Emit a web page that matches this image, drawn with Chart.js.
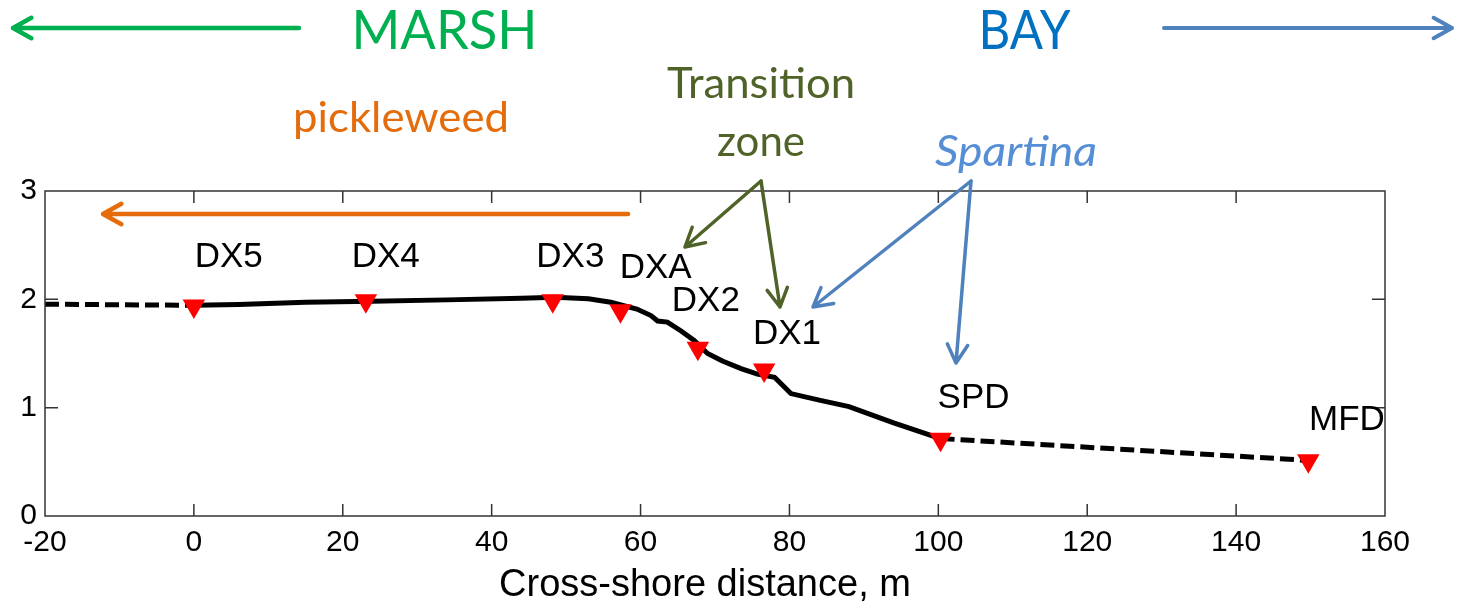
<!DOCTYPE html>
<html>
<head>
<meta charset="utf-8">
<script src="https://cdn.jsdelivr.net/npm/chart.js@4/dist/chart.umd.min.js"></script>
<style>
  html, body { margin: 0; padding: 0; background: #fff; }
  #wrap { width: 1465px; height: 604px; }
</style>
</head>
<body>
<div id="wrap"><canvas id="profile" width="1465" height="604"></canvas></div>
<script>
// ── Cross-shore elevation profile, DX transect ──

// surveyed profile (m), split where it's extrapolated (dashed) vs measured (solid)
var leftDashX = [-20, 0];
var leftDashY = [1.955, 1.945];
var profileX = [0, 6, 15, 24, 34, 44, 48.5, 53, 56, 59.5, 61.4, 62.3, 63.6, 65.4, 67.2, 69, 71, 73.5, 75.7, 78, 80.2, 84, 88, 94, 100.3];
var profileY = [1.945, 1.952, 1.973, 1.983, 1.995, 2.01, 2.02, 2.005, 1.973, 1.91, 1.85, 1.80, 1.79, 1.71, 1.62, 1.50, 1.43, 1.36, 1.31, 1.28, 1.13, 1.07, 1.01, 0.86, 0.715];
var rightDashX = [100.3, 150];
var rightDashY = [0.715, 0.512];

// instrument stations
var stationNames = ['DX5', 'DX4', 'DX3', 'DXA', 'DX2', 'DX1', 'SPD', 'MFD'];
var stationX = [0, 23.1, 48.2, 57.3, 67.7, 76.6, 100.3, 149.7];
var stationY = [1.939, 1.987, 1.987, 1.895, 1.548, 1.348, 0.708, 0.509];

// axis ticks
var xTicks = [-20, 0, 20, 40, 60, 80, 100, 120, 140, 160];
var yTicks = [0, 1, 2, 3];

// where each station name sits, in data units
var labelAnchors = [[0.1, 2.3], [21.2, 2.3], [46, 2.3], [57.2, 2.2], [64.2, 1.89], [75.1, 1.59], [99.9, 1.0], [149.8, 0.79]];

var AXIS_FONT = '"Liberation Sans", Arial, sans-serif';
var NOTE_FONT = 'Lato, "Open Sans", sans-serif';

function pts(xs, ys) {
  return xs.map(function (x, i) { return { x: x, y: ys[i] }; });
}

function arrow(ctx, x1, y1, x2, y2, color, lw) {
  var a = Math.atan2(y2 - y1, x2 - x1), head = 21, spread = Math.PI / 6.2;
  ctx.save();
  ctx.strokeStyle = color;
  ctx.lineWidth = lw;
  ctx.lineCap = 'round';
  ctx.lineJoin = 'round';
  ctx.beginPath();
  ctx.moveTo(x1, y1);
  ctx.lineTo(x2, y2);
  ctx.moveTo(x2 - head * Math.cos(a - spread), y2 - head * Math.sin(a - spread));
  ctx.lineTo(x2, y2);
  ctx.lineTo(x2 - head * Math.cos(a + spread), y2 - head * Math.sin(a + spread));
  ctx.stroke();
  ctx.restore();
}

// squeeze text into a given width (Calibri isn't available here)
function fitText(ctx, text, left, base, width, font, color) {
  ctx.save();
  ctx.font = font;
  var w = ctx.measureText(text).width;
  ctx.translate(left, base);
  ctx.scale(width / w, 1);
  ctx.fillStyle = color;
  ctx.textAlign = 'left';
  ctx.textBaseline = 'alphabetic';
  ctx.fillText(text, 0, 0);
  ctx.restore();
}

var notes = [
  { text: 'MARSH', left: 351.5, base: 49, width: 186, font: '55px ' + NOTE_FONT, color: '#00b050' },
  { text: 'BAY', left: 978.5, base: 49, width: 92, font: '55px ' + NOTE_FONT, color: '#0070c0' },
  { text: 'pickleweed', left: 293, base: 132, width: 216, font: '42px ' + NOTE_FONT, color: '#e46c0a' },
  { text: 'Transition', left: 667, base: 98, width: 188, font: '42px ' + NOTE_FONT, color: '#4f6228' },
  { text: 'zone', left: 717, base: 156, width: 88, font: '42px ' + NOTE_FONT, color: '#4f6228' },
  { text: 'Spartina', left: 935, base: 166, width: 162, font: 'italic 42px ' + NOTE_FONT, color: '#558ed5' }
];

var arrows = [
  { from: [299, 28], to: [13, 28], color: '#00b050', lw: 4.5 },
  { from: [1164, 28], to: [1452, 28], color: '#4f81bd', lw: 4 },
  { from: [628, 214], to: [103, 214], color: '#e46c0a', lw: 4.5 },
  { from: [761, 181], to: [685, 247], color: '#4f6228', lw: 3.5 },
  { from: [761, 181], to: [780, 307], color: '#4f6228', lw: 3.5 },
  { from: [971, 181], to: [813, 307], color: '#4f81bd', lw: 3.5 },
  { from: [971, 181], to: [956, 363], color: '#4f81bd', lw: 3.5 }
];

var decorations = {
  id: 'decorations',
  afterDatasetsDraw: function (chart) {
    var ctx = chart.ctx, a = chart.chartArea;
    var xs = chart.scales.x, ys = chart.scales.y;

    // matlab-ish box with inward ticks
    ctx.save();
    ctx.strokeStyle = '#333';
    ctx.lineWidth = 1.5;
    ctx.strokeRect(a.left, a.top, a.right - a.left, a.bottom - a.top);
    ctx.beginPath();
    xTicks.slice(1, -1).forEach(function (v) {
      var px = xs.getPixelForValue(v);
      ctx.moveTo(px, a.bottom); ctx.lineTo(px, a.bottom - 12);
      ctx.moveTo(px, a.top); ctx.lineTo(px, a.top + 12);
    });
    yTicks.slice(1, -1).forEach(function (v) {
      var py = ys.getPixelForValue(v);
      ctx.moveTo(a.left, py); ctx.lineTo(a.left + 13, py);
      ctx.moveTo(a.right, py); ctx.lineTo(a.right - 13, py);
    });
    ctx.stroke();

    // station names
    ctx.fillStyle = '#000';
    ctx.font = '35px ' + AXIS_FONT;
    ctx.textAlign = 'left';
    ctx.textBaseline = 'alphabetic';
    stationNames.forEach(function (name, i) {
      ctx.fillText(name, xs.getPixelForValue(labelAnchors[i][0]), ys.getPixelForValue(labelAnchors[i][1]));
    });

    // axis titles (the y title is mostly cropped off the left edge in the original)
    ctx.textAlign = 'center';
    ctx.font = '38px ' + AXIS_FONT;
    ctx.fillText('Cross-shore distance, m', 705, 596);
    ctx.translate(-5, 352);
    ctx.rotate(-Math.PI / 2);
    ctx.fillStyle = '#aaa';
    ctx.fillText('Elevation, m', 0, 0);
    ctx.restore();
  },
  afterDraw: function (chart) {
    var ctx = chart.ctx;
    notes.forEach(function (n) { fitText(ctx, n.text, n.left, n.base, n.width, n.font, n.color); });
    arrows.forEach(function (r) { arrow(ctx, r.from[0], r.from[1], r.to[0], r.to[1], r.color, r.lw); });
  }
};

var lineBase = { showLine: true, borderColor: '#000', borderWidth: 5, pointRadius: 0, fill: false, tension: 0 };

new Chart(document.getElementById('profile'), {
  type: 'scatter',
  data: {
    datasets: [
      Object.assign({ label: 'extrapolated (marsh)', data: pts(leftDashX, leftDashY), borderDash: [14, 6], order: 2 }, lineBase),
      Object.assign({ label: 'profile', data: pts(profileX, profileY), order: 2 }, lineBase),
      Object.assign({ label: 'extrapolated (bay)', data: pts(rightDashX, rightDashY), borderDash: [14, 6], order: 2 }, lineBase),
      {
        label: 'stations',
        data: pts(stationX, stationY),
        pointStyle: 'triangle',
        rotation: 180,
        pointRadius: 13,
        pointBackgroundColor: '#ff0000',
        pointBorderWidth: 0,
        showLine: false,
        order: 1
      }
    ]
  },
  options: {
    responsive: false,
    animation: false,
    devicePixelRatio: 1,
    layout: { padding: { top: 191, right: 80, left: 0, bottom: 0 } },
    plugins: { legend: { display: false }, tooltip: { enabled: false } },
    scales: {
      x: {
        type: 'linear',
        min: -20,
        max: 160,
        grid: { display: false, drawTicks: false },
        border: { display: false },
        afterBuildTicks: function (s) { s.ticks = xTicks.map(function (v) { return { value: v }; }); },
        afterFit: function (s) { s.height = 88; },
        ticks: { color: '#000', padding: 9, maxRotation: 0, font: { family: AXIS_FONT, size: 30 } }
      },
      y: {
        type: 'linear',
        min: 0,
        max: 3,
        grid: { display: false, drawTicks: false },
        border: { display: false },
        afterBuildTicks: function (s) { s.ticks = yTicks.map(function (v) { return { value: v }; }); },
        afterFit: function (s) { s.width = 45; },
        ticks: { color: '#000', padding: 8, font: { family: AXIS_FONT, size: 30 } }
      }
    }
  },
  plugins: [decorations]
});
</script>
</body>
</html>
